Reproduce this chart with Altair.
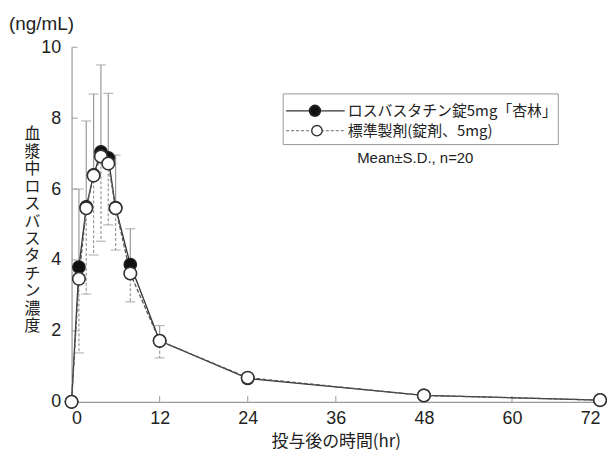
import altair as alt
import pandas as pd

# ---- data ----
time = [0, 1, 2, 3, 4, 5, 6, 8, 12, 24, 48, 72]
test_mean = [0, 3.80, 5.50, 6.40, 7.05, 6.88, 5.48, 3.87, 1.72, 0.66, 0.18, 0.05]
test_sd = [0, 2.20, 2.42, 2.28, 2.45, 1.82, 1.48, 1.01, 0.43, 0.15, 0.05, 0.03]
ref_mean = [0, 3.47, 5.46, 6.38, 6.92, 6.72, 5.46, 3.62, 1.72, 0.68, 0.18, 0.05]
ref_sd = [0, 2.09, 2.42, 2.24, 2.39, 1.73, 1.18, 0.80, 0.48, 0.15, 0.05, 0.03]
x_ticks = [0, 12, 24, 36, 48, 60, 72]
y_ticks = [0, 2, 4, 6, 8, 10]

test_name = "ロスバスタチン錠5mg「杏林」"
ref_name = "標準製剤(錠剤、5mg)"
x_title = "投与後の時間(hr)"
y_title = "血漿中ロスバスタチン濃度"
unit_text = "(ng/mL)"
note_text = "Mean±S.D., n=20"

JP = "Noto Sans CJK JP"
NUM = "Liberation Sans Narrow, Liberation Sans, Arial"
SANS = "Liberation Sans, Arial"
W, H = 532, 357

df_test = pd.DataFrame({"t": time, "m": test_mean, "sd": test_sd})
df_test["e"] = df_test["m"] + df_test["sd"]
df_ref = pd.DataFrame({"t": time, "m": ref_mean, "sd": ref_sd})
df_ref["e"] = df_ref["m"] - df_ref["sd"]

xs = alt.Scale(domain=[0, 72], nice=False, zero=False)
ys = alt.Scale(domain=[0, 10], nice=False)

x_axis = alt.Axis(values=x_ticks, title=x_title, titleFont=JP, titleFontSize=17,
                  titleFontWeight="normal", titleColor="#222", titlePadding=6,
                  labelPadding=8)
y_axis = alt.Axis(values=y_ticks, title=list(y_title), titleAngle=0, titleFont=JP,
                  titleFontSize=16, titleFontWeight="normal", titleColor="#222",
                  titleLineHeight=17.6, titleX=-40, titleY=87, titleAlign="center",
                  titleBaseline="middle", labelPadding=11)


def X():
    return alt.X("t:Q", scale=xs, axis=x_axis)


def Y(field):
    return alt.Y(field, scale=ys, axis=y_axis)


# error bars
test_bar = alt.Chart(df_test).mark_rule(color="#999", strokeWidth=1.2).encode(
    x=X(), y=Y("m:Q"), y2="e:Q")
test_cap = alt.Chart(df_test).mark_tick(orient="horizontal", size=10, thickness=1.2,
                                        color="#999").encode(x=X(), y=Y("e:Q"))
ref_bar = alt.Chart(df_ref).mark_rule(color="#999", strokeWidth=1.2, strokeDash=[3, 2]).encode(
    x=X(), y=Y("m:Q"), y2="e:Q")
ref_cap = alt.Chart(df_ref).mark_tick(orient="horizontal", size=10, thickness=1.2,
                                      color="#999").encode(x=X(), y=Y("e:Q"))

# lines
test_line = alt.Chart(df_test).mark_line(color="#333", strokeWidth=1.3).encode(
    x=X(), y=Y("m:Q"))
ref_line = alt.Chart(df_ref).mark_line(color="#555", strokeWidth=1.3, strokeDash=[4, 2]).encode(
    x=X(), y=Y("m:Q"))

# points
test_pt = alt.Chart(df_test).mark_point(shape="circle", filled=True, fill="#111", stroke="#222",
                                        strokeWidth=1.2, size=160, opacity=1).encode(
    x=X(), y=Y("m:Q"))
ref_pt = alt.Chart(df_ref).mark_point(shape="circle", filled=True, fill="white", stroke="#333",
                                      strokeWidth=1.6, size=160, opacity=1).encode(
    x=X(), y=Y("m:Q"))

# inward axis ticks
xt = alt.Chart(pd.DataFrame({"t": x_ticks[1:]})).mark_rule(color="#999").encode(
    x=X(), y=alt.value(H), y2=alt.value(H - 6))
yt = alt.Chart(pd.DataFrame({"v": y_ticks[1:]})).mark_rule(color="#999").encode(
    y=Y("v:Q"), x=alt.value(0), x2=alt.value(6))

one = pd.DataFrame({"a": [0]})
unit = alt.Chart(one).mark_text(align="left", baseline="middle", font=SANS, fontSize=19,
                                color="#222").encode(
    x=alt.value(-63), y=alt.value(-23), text=alt.value(unit_text))

# legend (hand-built)
box = alt.Chart(one).mark_rect(fill="white", stroke="#999", strokeWidth=1).encode(
    x=alt.value(213), x2=alt.value(490), y=alt.value(47), y2=alt.value(98))
l1 = alt.Chart(one).mark_rule(color="#333", strokeWidth=1.3).encode(
    x=alt.value(216), x2=alt.value(275), y=alt.value(64))
l2 = alt.Chart(one).mark_rule(color="#888", strokeWidth=1.3, strokeDash=[3, 2]).encode(
    x=alt.value(216), x2=alt.value(275), y=alt.value(84))
p1 = alt.Chart(one).mark_point(shape="circle", filled=True, fill="#111", stroke="#222",
                               size=110, opacity=1).encode(x=alt.value(245), y=alt.value(64))
p2 = alt.Chart(one).mark_point(shape="circle", filled=True, fill="white", stroke="#333",
                               strokeWidth=1.4, size=110, opacity=1).encode(
    x=alt.value(247), y=alt.value(84))
t1 = alt.Chart(one).mark_text(align="left", baseline="middle", font=JP, fontSize=15,
                              color="#222").encode(
    x=alt.value(278), y=alt.value(64), text=alt.value(test_name))
t2 = alt.Chart(one).mark_text(align="left", baseline="middle", font=JP, fontSize=15,
                              color="#222").encode(
    x=alt.value(278), y=alt.value(84), text=alt.value(ref_name))
t3 = alt.Chart(one).mark_text(align="center", baseline="middle", font=NUM, fontSize=15,
                              color="#222").encode(
    x=alt.value(346), y=alt.value(112), text=alt.value(note_text))

chart = alt.layer(
    test_bar, test_cap, ref_bar, ref_cap, xt, yt,
    test_line, ref_line, test_pt, ref_pt,
    box, l1, l2, p1, p2, t1, t2, t3, unit,
).properties(
    width=W, height=H, autosize="none",
    padding={"left": 64, "top": 38, "right": 8, "bottom": 48},
).configure_view(stroke=None).configure_axis(
    grid=False, ticks=False, domainColor="#999", domainWidth=1.2,
    labelFont=NUM, labelFontSize=18, labelColor="#222",
)

chart.save("out.html", embed_options={"renderer": "svg", "actions": False})
